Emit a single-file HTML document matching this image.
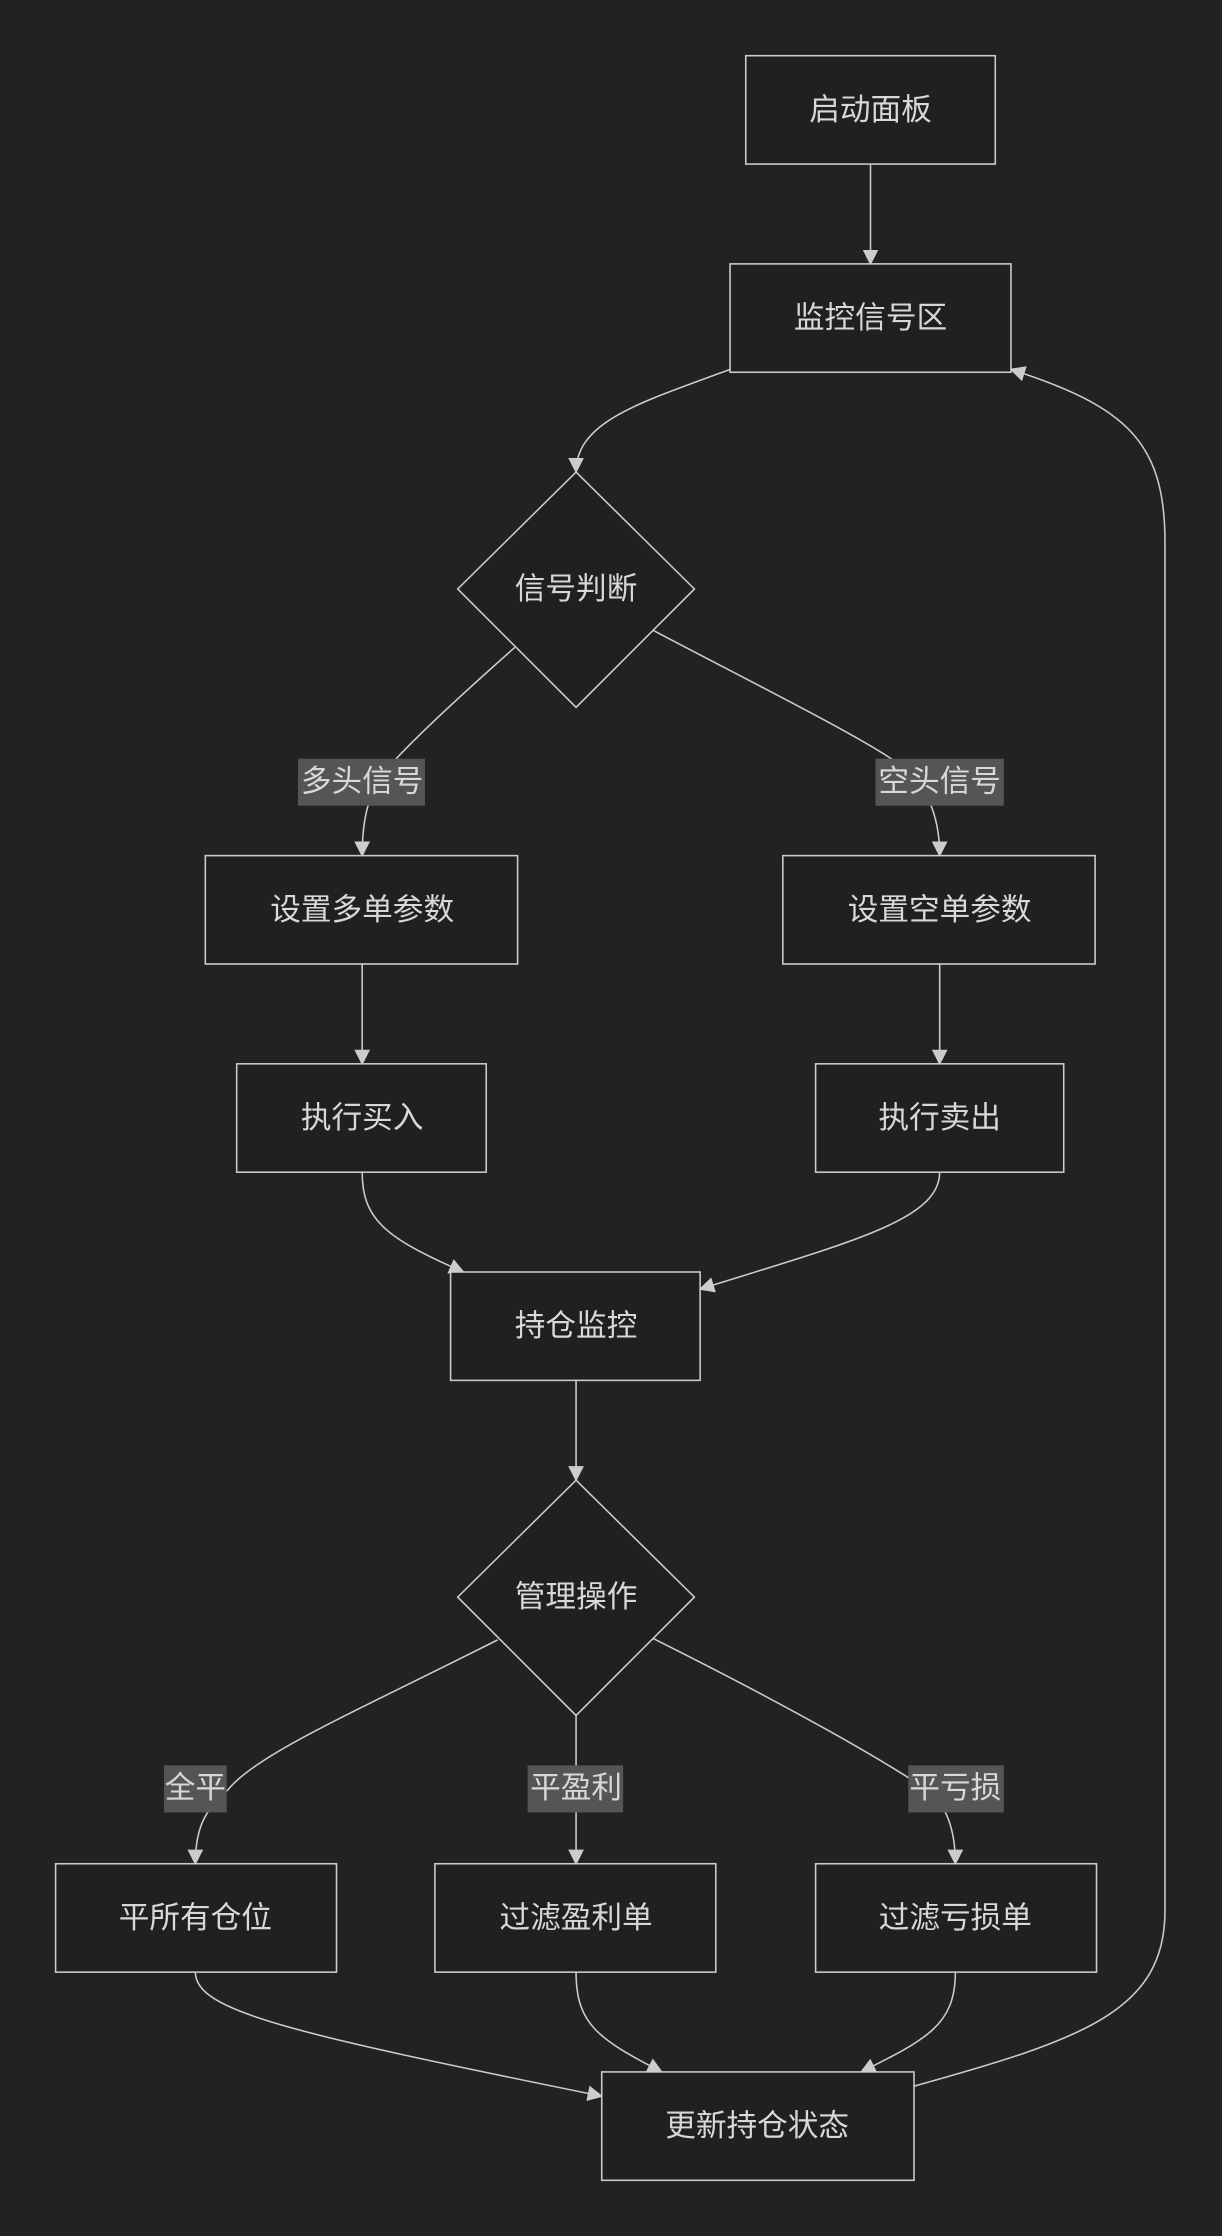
<!DOCTYPE html>
<html><head><meta charset="utf-8"><style>
html,body{margin:0;padding:0;background:#222222;}
svg{display:block}
text{font-family:"Liberation Sans","Noto Sans CJK SC",sans-serif;fill:#d8d8d8;font-size:21.5px;text-anchor:middle;dominant-baseline:central}
.n{fill:#1f2020;stroke:#cccccc;stroke-width:1.1}
.e{fill:none;stroke:#cccccc;stroke-width:1.1}
.lb{fill:#555555}
</style></head><body>
<svg width="1222" height="2236" viewBox="0 0 857 1568" xmlns="http://www.w3.org/2000/svg">
<defs><marker id="a" viewBox="0 0 10 10" refX="9" refY="5" markerWidth="11" markerHeight="11" orient="auto-start-reverse" markerUnits="userSpaceOnUse"><path d="M0,0L10,5L0,10z" fill="#cccccc"/></marker></defs>
<rect width="857" height="1568" fill="#222222"/>
<g class="e" marker-end="url(#a)">
<path d="M610.5,115V185"/>
<path d="M512,259C450,282 404,295 404,331"/>
<path d="M361,454Q300,508 276,534C262,550 254,565 254,600"/>
<path d="M458,442C540,485 600,515 628,534Q659,555 659,600"/>
<path d="M254,676V746"/>
<path d="M659,676V746"/>
<path d="M254,822C254,855 270,868 325,892"/>
<path d="M659,822C659,855 600,870 491,904"/>
<path d="M404,968V1038"/>
<path d="M349,1150C250,1200 180,1230 160,1255C142,1270 137,1285 137,1307"/>
<path d="M404,1203V1307"/>
<path d="M458,1149C560,1200 620,1235 650,1255Q670,1270 670,1307"/>
<path d="M137,1383C137,1410 200,1425 422,1470"/>
<path d="M404,1383C404,1420 420,1430 464,1453"/>
<path d="M670,1383C670,1420 650,1430 604,1453"/>
<path d="M641,1463C760,1430 817,1410 817,1340L817,380C817,310 790,285 709,259"/>
</g>
<rect class="n" x="523" y="39" width="175" height="76"/><text x="610.5" y="77">启动面板</text>
<rect class="n" x="512" y="185" width="197" height="76"/><text x="610.5" y="223">监控信号区</text>
<polygon class="n" points="404,331 487,413 404,496 321,413"/><text x="404" y="413">信号判断</text>
<rect class="lb" x="209" y="532" width="89" height="33"/><text x="254" y="548">多头信号</text>
<rect class="lb" x="614" y="532" width="90" height="33"/><text x="659" y="548">空头信号</text>
<rect class="n" x="144" y="600" width="219" height="76"/><text x="254" y="638">设置多单参数</text>
<rect class="n" x="549" y="600" width="219" height="76"/><text x="659" y="638">设置空单参数</text>
<rect class="n" x="166" y="746" width="175" height="76"/><text x="254" y="784">执行买入</text>
<rect class="n" x="572" y="746" width="174" height="76"/><text x="659" y="784">执行卖出</text>
<rect class="n" x="316" y="892" width="175" height="76"/><text x="404" y="930">持仓监控</text>
<polygon class="n" points="404,1038 487,1120 404,1203 321,1120"/><text x="404" y="1120">管理操作</text>
<rect class="lb" x="115" y="1238" width="44" height="33"/><text x="137" y="1254">全平</text>
<rect class="lb" x="370" y="1238" width="67" height="33"/><text x="404" y="1254">平盈利</text>
<rect class="lb" x="637" y="1238" width="67" height="33"/><text x="670" y="1254">平亏损</text>
<rect class="n" x="39" y="1307" width="197" height="76"/><text x="137" y="1345">平所有仓位</text>
<rect class="n" x="305" y="1307" width="197" height="76"/><text x="404" y="1345">过滤盈利单</text>
<rect class="n" x="572" y="1307" width="197" height="76"/><text x="670" y="1345">过滤亏损单</text>
<rect class="n" x="422" y="1453" width="219" height="76"/><text x="531" y="1491">更新持仓状态</text>
</svg>
</body></html>
